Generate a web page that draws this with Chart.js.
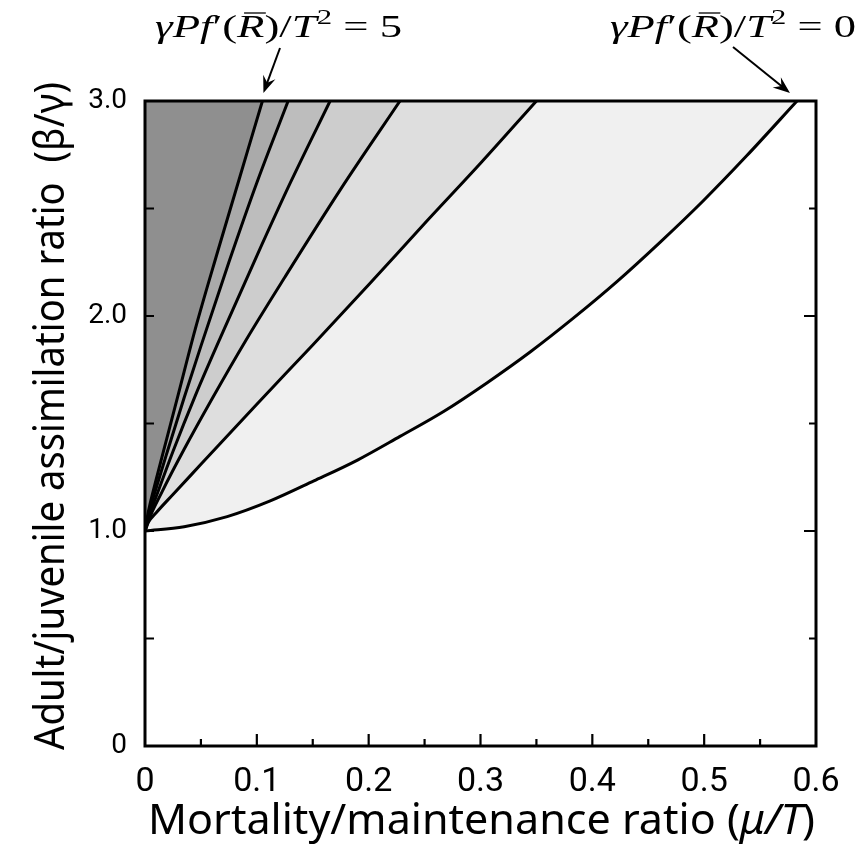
<!DOCTYPE html>
<html lang="en">
<head>
<meta charset="UTF-8">
<title>Assimilation ratio vs mortality ratio</title>
<script src="https://cdn.jsdelivr.net/npm/chart.js"></script>
<style>
  html, body { margin: 0; padding: 0; background: #fff; }
  #wrap { width: 868px; height: 856px; position: relative; }
</style>
</head>
<body>
<div id="wrap"><canvas id="chart"></canvas></div>
<script>
// contour lines of gamma*P*f'(R)/T^2, leftmost (=5) to rightmost (=0)
const levels = [5, 4, 3, 2, 1, 0];

const c5x = [0, 0.003, 0.01, 0.02, 0.03, 0.045, 0.065, 0.085, 0.105];
const c5y = [1, 1.09, 1.24, 1.44, 1.64, 1.94, 2.3, 2.65, 3.0];

const c4x = [0, 0.003, 0.01, 0.02, 0.035, 0.05, 0.075, 0.1, 0.128];
const c4y = [1, 1.075, 1.2, 1.37, 1.62, 1.86, 2.25, 2.62, 3.0];

const c3x = [0, 0.003, 0.01, 0.025, 0.045, 0.07, 0.1, 0.13, 0.1655];
const c3y = [1, 1.06, 1.16, 1.37, 1.63, 1.93, 2.28, 2.62, 3.0];

const c2x = [0, 0.004, 0.015, 0.035, 0.06, 0.09, 0.125, 0.175, 0.228];
const c2y = [1, 1.06, 1.18, 1.38, 1.615, 1.885, 2.18, 2.59, 3.0];

const c1x = [0, 0.003, 0.01, 0.025, 0.05, 0.1, 0.15, 0.2, 0.25, 0.3, 0.35];
const c1y = [1, 1.04, 1.085, 1.17, 1.31, 1.59, 1.865, 2.145, 2.43, 2.71, 3.0];

const c0x = [0, 0.035, 0.0735, 0.112, 0.151, 0.19, 0.228, 0.267, 0.306, 0.345, 0.383, 0.422, 0.461, 0.499, 0.538, 0.583];
const c0y = [1.0, 1.02, 1.067, 1.14, 1.233, 1.33, 1.44, 1.556, 1.69, 1.835, 1.99, 2.16, 2.345, 2.535, 2.745, 3.0];

const shades = ['#8f8f8f', '#aaaaaa', '#bdbdbd', '#cdcdcd', '#dedede', '#f0f0f0'];

const xTicks = [0, 0.1, 0.2, 0.3, 0.4, 0.5, 0.6];
const xMinor = [0.05, 0.15, 0.25, 0.35, 0.45, 0.55];
const yTicks = [0, 1, 2, 3];
const yMinor = [0.5, 1.5, 2.5];

const curves = [[c5x, c5y], [c4x, c4y], [c3x, c3y], [c2x, c2y], [c1x, c1y], [c0x, c0y]];

const datasets = curves.map((c, i) => ({
  label: 'level ' + levels[i],
  data: c[0].map((x, j) => ({ x: x, y: c[1][j] })),
  borderColor: '#000',
  borderWidth: 3,
  backgroundColor: shades[i],
  fill: 'end',
  pointRadius: 0,
  cubicInterpolationMode: 'monotone'
}));

// draw text runs (mixed fonts) squeezed to a given width
function drawRuns(ctx, runs, x, y, width) {
  let w = 0;
  runs.forEach(r => { ctx.font = r.f; w += ctx.measureText(r.t).width; });
  const sx = width ? width / w : 1;
  ctx.save();
  ctx.translate(x, y);
  ctx.scale(sx, 1);
  let cx = 0;
  runs.forEach(r => {
    ctx.font = r.f;
    const tw = ctx.measureText(r.t).width;
    ctx.fillText(r.t, cx, r.dy || 0);
    if (r.bar) {
      ctx.lineWidth = 1.3;
      ctx.beginPath();
      ctx.moveTo(cx + 5, -24);
      ctx.lineTo(cx + tw + 1, -24);
      ctx.stroke();
    }
    cx += tw;
  });
  ctx.restore();
}

function arrow(ctx, x1, y1, x2, y2) {
  const a = Math.atan2(y2 - y1, x2 - x1);
  const L = 17, W = 6.5;
  const ca = Math.cos(a), sa = Math.sin(a);
  ctx.beginPath();
  ctx.moveTo(x1, y1);
  ctx.lineTo(x2 - ca * L * 0.6, y2 - sa * L * 0.6);
  ctx.stroke();
  ctx.beginPath();
  ctx.moveTo(x2, y2);
  ctx.lineTo(x2 - ca * L - sa * W, y2 - sa * L + ca * W);
  ctx.lineTo(x2 - ca * L * 0.65, y2 - sa * L * 0.65);
  ctx.lineTo(x2 - ca * L + sa * W, y2 - sa * L - ca * W);
  ctx.closePath();
  ctx.fill();
}

const mathIt = 'italic 32px "Liberation Serif", "DejaVu Serif"';
const mathRm = '32px "Liberation Serif", "DejaVu Serif"';
const mathSup = '22px "Liberation Serif", "DejaVu Serif"';
function levelLabel(v) {
  return [
    { t: 'γPf', f: mathIt },
    { t: '′', f: mathRm },
    { t: '(', f: mathRm },
    { t: 'R', f: mathIt, bar: true },
    { t: ')/', f: mathRm },
    { t: 'T', f: mathIt },
    { t: '2', f: mathSup, dy: -13 },
    { t: ' = ' + v, f: mathRm }
  ];
}

const frameAndLabels = {
  id: 'frameAndLabels',
  afterDatasetsDraw(chart) {
    const { ctx, chartArea: a, scales: { x, y } } = chart;
    ctx.save();
    ctx.strokeStyle = '#000';
    ctx.fillStyle = '#000';
    // inward ticks
    ctx.lineWidth = 2.2;
    ctx.beginPath();
    xTicks.slice(1, -1).forEach(v => {
      const px = x.getPixelForValue(v);
      ctx.moveTo(px, a.bottom); ctx.lineTo(px, a.bottom - 12);
    });
    xMinor.forEach(v => {
      const px = x.getPixelForValue(v);
      ctx.moveTo(px, a.bottom); ctx.lineTo(px, a.bottom - 7);
    });
    [0.5, 1, 1.5, 2, 2.5].forEach(v => {
      const py = y.getPixelForValue(v);
      ctx.moveTo(a.left, py); ctx.lineTo(a.left + 9, py);
    });
    yTicks.slice(1, -1).forEach(v => {
      const py = y.getPixelForValue(v);
      ctx.moveTo(a.right, py); ctx.lineTo(a.right - 12, py);
    });
    yMinor.forEach(v => {
      const py = y.getPixelForValue(v);
      ctx.moveTo(a.right, py); ctx.lineTo(a.right - 7, py);
    });
    ctx.stroke();
    // frame
    ctx.lineWidth = 3;
    ctx.strokeRect(a.left, a.top, a.right - a.left, a.bottom - a.top);
    ctx.restore();
  },
  afterDraw(chart) {
    const { ctx, scales: { x, y } } = chart;
    ctx.save();
    ctx.fillStyle = '#000';
    ctx.strokeStyle = '#000';
    ctx.textBaseline = 'alphabetic';
    ctx.textAlign = 'left';

    // axis titles
    const sans = '42px "Noto Sans", "Open Sans", sans-serif';
    const sansIt = 'italic 42px "Noto Sans", "Open Sans", sans-serif';
    drawRuns(ctx, [
      { t: 'Mortality/maintenance ratio (', f: sans },
      { t: 'μ/T', f: sansIt },
      { t: ')', f: sans }
    ], 148, 834, 667);

    ctx.save();
    ctx.translate(64, 750);
    ctx.rotate(-Math.PI / 2);
    drawRuns(ctx, [{ t: 'Adult/juvenile assimilation ratio  (β/γ)', f: sans }], 0, 0, 668);
    ctx.restore();

    // level annotations with arrows
    drawRuns(ctx, levelLabel(5), 155, 37, 247);
    drawRuns(ctx, levelLabel(0), 610, 37, 246);

    ctx.lineWidth = 2;
    const topPx = y.getPixelForValue(3);
    const p5 = x.getPixelForValue(c5x[c5x.length - 1]);
    const p0 = x.getPixelForValue(c0x[c0x.length - 1]);
    arrow(ctx, 280, 48, p5 + 1, topPx - 8);
    arrow(ctx, 733, 47, p0 - 7, topPx - 8);
    ctx.restore();
  }
};

Chart.defaults.font.family = 'Roboto';
Chart.defaults.font.size = 24;
Chart.defaults.color = '#000';

new Chart(document.getElementById('chart'), {
  type: 'line',
  data: { datasets: datasets },
  options: {
    responsive: true,
    maintainAspectRatio: false,
    animation: false,
    events: [],
    layout: { padding: { top: 101, right: 52, left: 0, bottom: 0 } },
    plugins: { legend: { display: false }, tooltip: { enabled: false } },
    scales: {
      x: {
        type: 'linear',
        min: 0, max: 0.6,
        afterFit(s) { s.height = 110; },
        afterBuildTicks(s) { s.ticks = xTicks.map(v => ({ value: v })); },
        grid: { display: false, drawTicks: false },
        border: { display: false },
        ticks: {
          padding: 16,
          color: '#000',
          font: { family: 'Roboto', size: 34 },
          maxRotation: 0,
          autoSkip: false,
          callback: v => v === 0 ? '0' : v.toFixed(1)
        }
      },
      y: {
        type: 'linear',
        min: 0, max: 3,
        afterFit(s) { s.width = 145; },
        afterBuildTicks(s) { s.ticks = yTicks.map(v => ({ value: v })); },
        grid: { display: false, drawTicks: false },
        border: { display: false },
        ticks: {
          padding: 18,
          color: '#000',
          font: { family: 'Roboto', size: 28 },
          autoSkip: false,
          callback: v => v === 0 ? '0' : v.toFixed(1)
        }
      }
    }
  },
  plugins: [frameAndLabels]
});
</script>
</body>
</html>
